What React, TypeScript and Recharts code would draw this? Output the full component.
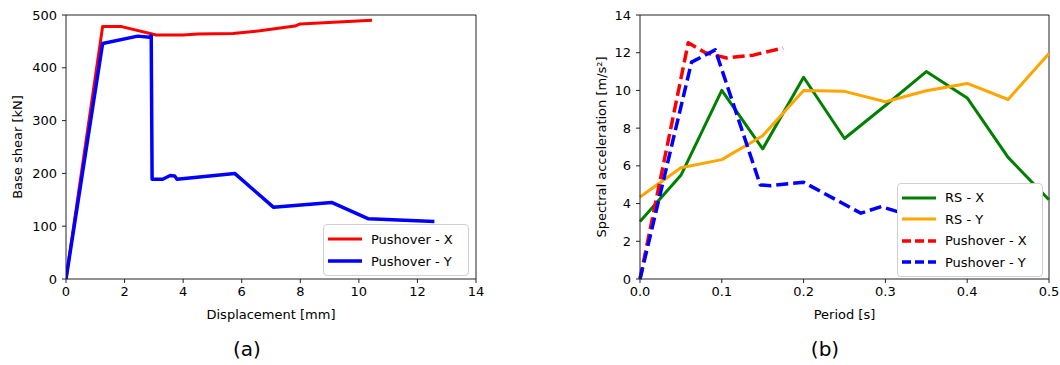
import React from "react";
import {
  Label,
  Line,
  LineChart,
  ReferenceLine,
  XAxis,
  YAxis,
} from "recharts";

// (a) pushover curves: displacement [mm] vs base shear [kN]
const pushXDisp = [0, 1.25, 1.9, 3.08, 4.0, 4.5, 5.7, 6.62, 7.82, 7.99, 10.45];
const pushXShear = [0, 478, 478, 462, 462, 464, 465, 470, 479, 483, 490];
const pushYDisp = [0, 1.25, 2.45, 2.85, 2.91, 2.94, 3.3, 3.56, 3.71, 3.79, 5.76, 7.08, 9.07, 10.33, 12.58];
const pushYShear = [0, 446, 460, 458, 461, 189, 189, 196, 195, 189, 200, 136, 145, 114, 109];

// (b) spectra: period [s] vs spectral acceleration [m/s²]
const rsPeriods = [0, 0.05, 0.1, 0.15, 0.2, 0.25, 0.3, 0.35, 0.4, 0.45, 0.5];
const rsX = [3.05, 5.5, 10.0, 6.9, 10.7, 7.45, 9.2, 11.0, 9.6, 6.45, 4.2];
const rsY = [4.35, 5.9, 6.33, 7.6, 10.0, 9.95, 9.4, 9.98, 10.37, 9.52, 11.96];
const capXPeriod = [0, 0.059, 0.08, 0.106, 0.1385, 0.16, 0.175];
const capXSa = [0, 12.53, 12.0, 11.72, 11.87, 12.1, 12.25];
const capYPeriod = [0, 0.063, 0.092, 0.147, 0.16, 0.2, 0.27, 0.295, 0.357, 0.402];
const capYSa = [0, 11.5, 12.15, 4.99, 4.95, 5.13, 3.49, 3.84, 3.0, 2.85];

const xTicksA = [0, 2, 4, 6, 8, 10, 12, 14];
const yTicksA = [0, 100, 200, 300, 400, 500];
const xTicksB = [0, 0.1, 0.2, 0.3, 0.4, 0.5];
const yTicksB = [0, 2, 4, 6, 8, 10, 12, 14];

const zip = (xs: number[], ys: number[]) => xs.map((x, i) => ({ x, y: ys[i] }));

const font = "'DejaVu Sans', sans-serif";
const tick = { fontSize: 13, fill: "#000", fontFamily: font };
const labelStyle = { fontSize: 13, fill: "#000", fontFamily: font };
const spine = "#222";

type LegendItem = { name: string; color: string; dash?: string; width: number };

function LegendBox({
  items,
  left,
  top,
  width,
  rowGap,
}: {
  items: LegendItem[];
  left: number;
  top: number;
  width: number;
  rowGap: number;
}) {
  return (
    <div
      style={{
        position: "absolute",
        left,
        top,
        width,
        padding: "3px 0",
        background: "#fff",
        border: "1px solid #d0d0d0",
        borderRadius: 4,
        fontFamily: font,
        fontSize: 13,
        color: "#000",
      }}
    >
      {items.map((it) => (
        <div key={it.name} style={{ display: "flex", alignItems: "center", height: rowGap }}>
          <svg width={44} height={10} style={{ marginLeft: 3 }}>
            <line x1={1} y1={5} x2={35} y2={5} stroke={it.color} strokeWidth={it.width} strokeDasharray={it.dash} />
          </svg>
          <span>{it.name}</span>
        </div>
      ))}
    </div>
  );
}

export default function App() {
  return (
    <div style={{ position: "absolute", left: 0, top: 0, width: 1060, height: 365, background: "#fff" }}>
      <div style={{ position: "absolute", left: 0, top: 0 }}>
        <LineChart width={490} height={330} margin={{ top: 15, right: 14, left: 6, bottom: 11 }}>
          <XAxis
            type="number"
            dataKey="x"
            domain={[0, 14]}
            ticks={xTicksA}
            tick={tick}
            tickSize={4}
            tickMargin={4}
            height={40}
            stroke={spine}
            allowDataOverflow
          >
            <Label value="Displacement [mm]" position="insideBottom" offset={0} style={labelStyle} />
          </XAxis>
          <YAxis
            type="number"
            dataKey="y"
            domain={[0, 500]}
            ticks={yTicksA}
            tick={tick}
            tickSize={4}
            tickMargin={5}
            width={60}
            stroke={spine}
          >
            <Label
              value="Base shear [kN]"
              angle={-90}
              position="insideLeft"
              offset={11}
              style={{ ...labelStyle, textAnchor: "middle" }}
            />
          </YAxis>
          <ReferenceLine y={500} stroke={spine} />
          <ReferenceLine x={14} stroke={spine} />
          <Line
            data={zip(pushXDisp, pushXShear)}
            dataKey="y"
            stroke="#ff0000"
            strokeWidth={3}
            strokeLinejoin="round"
            dot={false}
            isAnimationActive={false}
          />
          <Line
            data={zip(pushYDisp, pushYShear)}
            dataKey="y"
            stroke="#0000ff"
            strokeWidth={3.5}
            strokeLinejoin="round"
            dot={false}
            isAnimationActive={false}
          />
        </LineChart>
      </div>

      <div style={{ position: "absolute", left: 560, top: 0 }}>
        <LineChart width={500} height={330} margin={{ top: 15, right: 11, left: 20, bottom: 11 }}>
          <XAxis
            type="number"
            dataKey="x"
            domain={[0, 0.5]}
            ticks={xTicksB}
            tickFormatter={(v: number) => v.toFixed(1)}
            tick={tick}
            tickSize={4}
            tickMargin={4}
            height={40}
            stroke={spine}
          >
            <Label value="Period [s]" position="insideBottom" offset={0} style={labelStyle} />
          </XAxis>
          <YAxis
            type="number"
            dataKey="y"
            domain={[0, 14]}
            ticks={yTicksB}
            tick={tick}
            tickSize={4}
            tickMargin={5}
            width={60}
            stroke={spine}
          >
            <Label
              value="Spectral acceleration [m/s²]"
              angle={-90}
              position="insideLeft"
              offset={21}
              style={{ ...labelStyle, textAnchor: "middle" }}
            />
          </YAxis>
          <ReferenceLine y={14} stroke={spine} />
          <ReferenceLine x={0.5} stroke={spine} />
          <Line data={zip(rsPeriods, rsX)} dataKey="y" stroke="#008000" strokeWidth={3} strokeLinejoin="round" dot={false} isAnimationActive={false} />
          <Line data={zip(rsPeriods, rsY)} dataKey="y" stroke="#ffa500" strokeWidth={3} strokeLinejoin="round" dot={false} isAnimationActive={false} />
          <Line
            data={zip(capXPeriod, capXSa)}
            dataKey="y"
            stroke="#ff0000"
            strokeWidth={3.5}
            strokeDasharray="12 5"
            strokeLinejoin="round"
            dot={false}
            isAnimationActive={false}
          />
          <Line
            data={zip(capYPeriod, capYSa)}
            dataKey="y"
            stroke="#0000ff"
            strokeWidth={3.5}
            strokeDasharray="12 5"
            strokeLinejoin="round"
            dot={false}
            isAnimationActive={false}
          />
        </LineChart>
      </div>

      <LegendBox
        left={323}
        top={224}
        width={144}
        rowGap={22}
        items={[
          { name: "Pushover - X", color: "#ff0000", width: 3 },
          { name: "Pushover - Y", color: "#0000ff", width: 3.5 },
        ]}
      />
      <LegendBox
        left={897}
        top={183}
        width={144}
        rowGap={21.5}
        items={[
          { name: "RS - X", color: "#008000", width: 3 },
          { name: "RS - Y", color: "#ffa500", width: 3 },
          { name: "Pushover - X", color: "#ff0000", width: 3.5, dash: "9 4" },
          { name: "Pushover - Y", color: "#0000ff", width: 3.5, dash: "9 4" },
        ]}
      />

      <div style={{ position: "absolute", left: 227, top: 337, width: 40, textAlign: "center", fontFamily: font, fontSize: 20 }}>
        (a)
      </div>
      <div style={{ position: "absolute", left: 805, top: 337, width: 40, textAlign: "center", fontFamily: font, fontSize: 20 }}>
        (b)
      </div>
    </div>
  );
}
